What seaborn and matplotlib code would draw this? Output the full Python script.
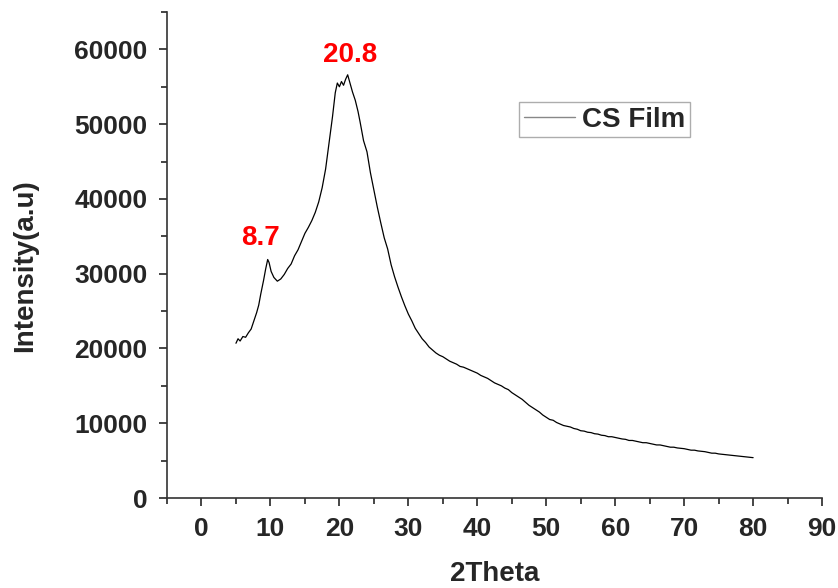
import numpy as np
import pandas as pd
import matplotlib
matplotlib.use("Agg")
import matplotlib.pyplot as plt
from matplotlib.ticker import MultipleLocator
import seaborn as sns

# values (2theta, intensity)
two_theta = [5.0, 5.3, 5.6, 6.0, 6.4, 6.8, 7.2, 7.6, 8.0, 8.3, 8.6, 9.0, 9.3, 9.6, 9.8,
             10.1, 10.5, 11.0, 11.5, 12.0, 12.5, 13.0, 13.5, 14.0, 14.5, 15.0, 15.5, 16.0,
             16.5, 17.0, 17.5, 18.0, 18.5, 19.0, 19.4, 19.7, 20.0, 20.3, 20.6, 20.9, 21.2,
             21.5, 21.9, 22.3, 22.7, 23.0, 23.5, 24.0, 24.5, 25.0, 25.5, 26.0, 26.5, 27.0,
             27.5, 28.0, 28.5, 29.0, 29.5, 30.0, 30.5, 31.0, 31.5, 32.0, 32.5, 33.0, 33.5,
             34.0, 34.5, 35.0, 35.5, 36.0, 36.5, 37.0, 37.5, 38.0, 38.5, 39.0, 39.5, 40.0,
             40.5, 41.0, 41.5, 42.0, 42.5, 43.0, 43.5, 44.0, 44.5, 45.0, 45.5, 46.0, 46.5,
             47.0, 47.5, 48.0, 48.5, 49.0, 49.5, 50.0, 50.5, 51.0, 51.5, 52.0, 52.5, 53.0,
             53.5, 54.0, 54.5, 55.0, 55.5, 56.0, 56.5, 57.0, 57.5, 58.0, 58.5, 59.0, 59.5,
             60.0, 60.5, 61.0, 61.5, 62.0, 62.5, 63.0, 63.5, 64.0, 64.5, 65.0, 65.5, 66.0,
             66.5, 67.0, 67.5, 68.0, 68.5, 69.0, 69.5, 70.0, 70.5, 71.0, 71.5, 72.0, 72.5,
             73.0, 73.5, 74.0, 74.5, 75.0, 75.5, 76.0, 76.5, 77.0, 77.5, 78.0, 78.5, 79.0,
             79.5, 80.0]
intensity = [20700, 21300, 21000, 21600, 21500, 22100, 22600, 23700, 24800, 25800, 27300,
             29100, 30600, 31900, 31500, 30300, 29500, 29000, 29300, 29900, 30700, 31300,
             32400, 33200, 34300, 35400, 36200, 37100, 38200, 39600, 41500, 44000, 47500,
             51000, 54200, 55500, 55000, 55700, 55200, 56000, 56600, 55600, 54300, 53200,
             51700, 50300, 47800, 46300, 43500, 41200, 38900, 36800, 34800, 33300, 31200,
             29600, 28200, 26900, 25700, 24600, 23700, 22700, 22000, 21300, 20800, 20200,
             19800, 19400, 19100, 18900, 18600, 18300, 18100, 17900, 17600, 17500, 17300,
             17100, 16900, 16700, 16400, 16200, 16000, 15700, 15400, 15200, 15000, 14700,
             14500, 14100, 13800, 13500, 13200, 12800, 12400, 12100, 11800, 11500, 11100,
             10800, 10500, 10400, 10100, 9900, 9700, 9600, 9500, 9300, 9200, 9000, 8950,
             8800, 8750, 8600, 8550, 8400, 8350, 8200, 8200, 8100, 8000, 7900, 7850, 7700,
             7700, 7600, 7500, 7400, 7400, 7300, 7200, 7100, 7100, 7000, 6900, 6800, 6800,
             6700, 6650, 6600, 6500, 6400, 6400, 6300, 6250, 6200, 6100, 6000, 6000, 5900,
             5850, 5800, 5750, 5700, 5650, 5600, 5550, 5500, 5450, 5400]

peak_labels = ["8.7", "20.8"]

df = pd.DataFrame({"2Theta": two_theta, "Intensity": intensity})

sns.set_theme(style="ticks")
plt.rcParams['font.family'] = ['Liberation Sans', 'DejaVu Sans']
plt.rcParams['font.weight'] = 'bold'

fig = plt.figure(figsize=(8.38, 5.88), dpi=100)
ax = fig.add_axes([0.1993, 0.153, 0.7817, 0.8266])

sns.lineplot(data=df, x="2Theta", y="Intensity", ax=ax, color="black",
             linewidth=0.9, label="CS Film")

ax.set_xlim(-5, 90)
ax.set_ylim(0, 65000)
ax.xaxis.set_major_locator(MultipleLocator(10))
ax.xaxis.set_minor_locator(MultipleLocator(5))
ax.yaxis.set_major_locator(MultipleLocator(10000))
ax.yaxis.set_minor_locator(MultipleLocator(5000))
ax.tick_params(which='major', direction='out', length=6, width=1.2, labelsize=19, pad=8)
ax.tick_params(which='minor', direction='out', length=4, width=1.2)
for lab in ax.get_xticklabels() + ax.get_yticklabels():
    lab.set_fontweight('bold')

sns.despine(ax=ax)
for s in ["left", "bottom"]:
    ax.spines[s].set_linewidth(1.2)
    ax.spines[s].set_color("#333333")

ax.set_xlabel("2Theta", fontsize=20, fontweight='bold', labelpad=14)
ax.set_ylabel("Intensity(a.u)", fontsize=20, fontweight='bold')
ax.yaxis.set_label_coords(-0.197, 0.478)

ax.text(8.5, 34800, peak_labels[0], color="red", fontsize=20, fontweight='bold',
        ha='center', va='center')
ax.text(21.6, 59300, peak_labels[1], color="red", fontsize=20, fontweight='bold',
        ha='center', va='center')

leg = ax.legend(loc='upper left', bbox_to_anchor=(0.537, 0.815), frameon=True,
                fancybox=False, prop={'weight': 'bold', 'size': 20},
                handlelength=1.85, borderpad=0.17, handletextpad=0.25, borderaxespad=0)
leg.get_frame().set_edgecolor("#999999")
leg.get_frame().set_linewidth(1.0)
leg.get_lines()[0].set_color("#888888")
leg.get_lines()[0].set_linewidth(1.0)

fig.savefig("out.png", dpi=100)
